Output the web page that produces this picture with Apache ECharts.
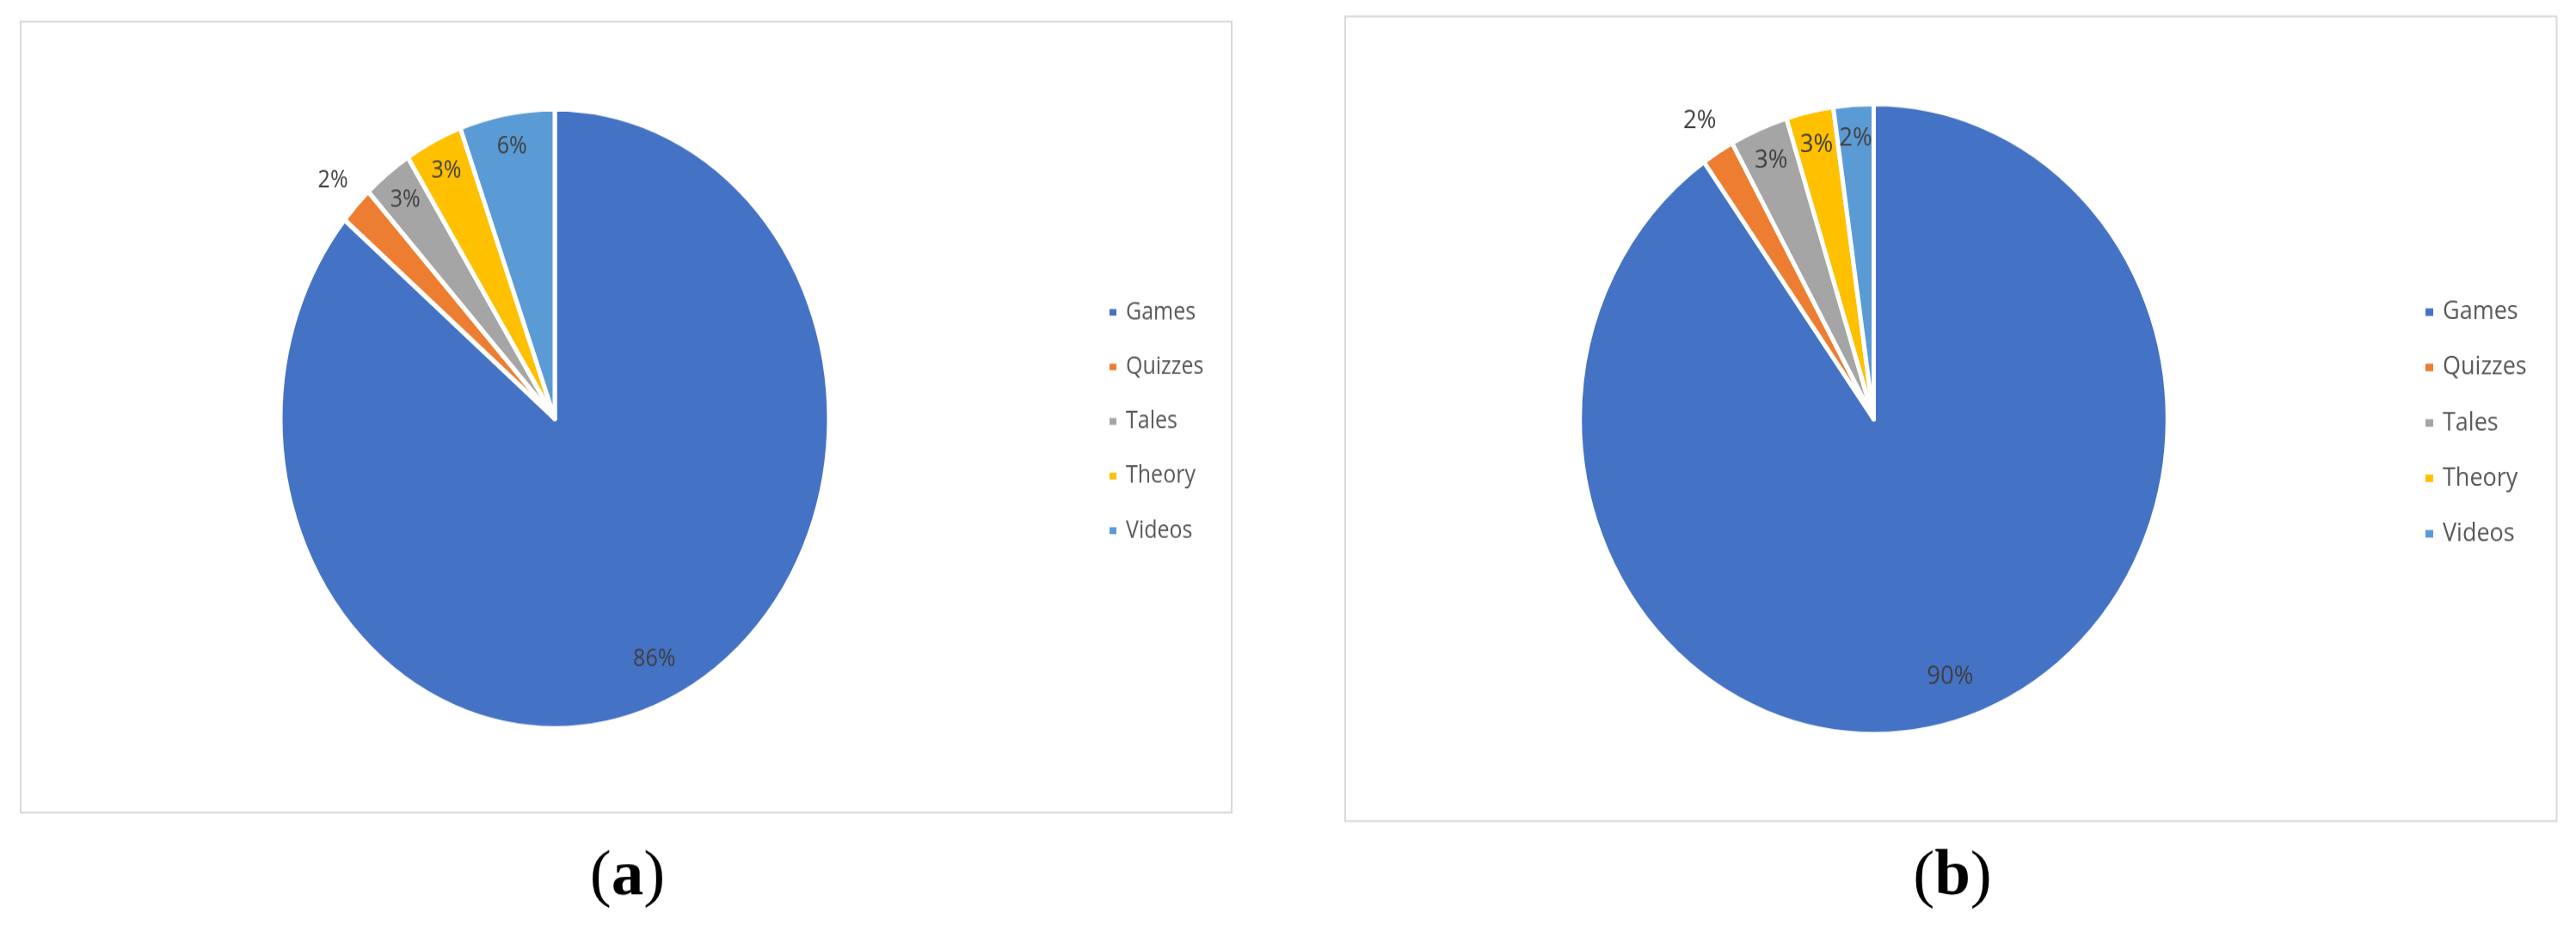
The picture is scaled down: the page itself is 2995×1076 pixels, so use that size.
<!DOCTYPE html>
<html><head><meta charset="utf-8">
<script src="https://cdn.jsdelivr.net/npm/echarts@6/dist/echarts.min.js"></script>
<style>
html,body{margin:0;padding:0;background:#fff;width:2995px;height:1076px;overflow:hidden}
.panel{position:absolute;top:0;transform-origin:0 0;}
</style></head><body>
<div id="pa" class="panel"></div><div id="pb" class="panel"></div>
<script>
// ---- data ----
const categories = ['Games', 'Quizzes', 'Tales', 'Theory', 'Videos'];
const valuesA = [86.1, 2.0, 2.9, 3.4, 5.6];   // panel (a), shares in %
const valuesB = [90.2, 1.8, 3.2, 2.6, 2.2];   // panel (b), shares in %
const captionA = 'a';
const captionB = 'b';
const colors = ['#4472C4', '#ED7D31', '#A5A5A5', '#FFC000', '#5B9BD5'];

// ---- layout (page pixel coordinates) ----
const panels = [
  { id: 'pa', left: 0, width: 1497, sy: 1.1295, box: [24, 25, 1432, 945], center: [645, 487], R: 316.5,
    legendX: 1283, legendY0: 357.6, legendStep: 63.5, icon: 10, legendFont: 25, labelFont: 25,
    caption: captionA, capPos: [729.5, 1021], values: valuesA },
  { id: 'pb', left: 1497, width: 1498, sy: 1.0722, box: [1564, 19, 2972.5, 955], center: [2178.5, 487.5], R: 339.3,
    legendX: 2813, legendY0: 357.6, legendStep: 64.5, icon: 11, legendFont: 27, labelFont: 27.5,
    caption: captionB, capPos: [2270, 1021], values: valuesB }
];

const FONT = '"Open Sans", "Noto Sans", sans-serif';

panels.forEach(function (P) {
  const el = document.getElementById(P.id);
  const H = 1076 / P.sy;
  el.style.left = P.left + 'px';
  el.style.width = P.width + 'px';
  el.style.height = H + 'px';
  el.style.transform = 'scaleY(' + P.sy + ')';
  const chart = echarts.init(el, null, { renderer: 'canvas' });
  const X = x => x - P.left;
  const Y = y => y / P.sy;
  const cx = X(P.center[0]), cy = Y(P.center[1]);
  const R = P.R;

  function labelRing(inner, outer, show) {
    return {
      type: 'pie', silent: true, z: 5,
      radius: [inner * R, outer * R], center: [cx, cy],
      startAngle: 90, clockwise: true, animation: false,
      itemStyle: { color: 'rgba(0,0,0,0)', borderWidth: 0 },
      label: {
        show: true, position: 'inside', fontFamily: FONT, fontSize: P.labelFont, color: '#404040',
        formatter: p => Math.round(p.percent) + '%'
      },
      labelLine: { show: false },
      emphasis: { disabled: true },
      data: P.values.map((v, i) => ({ value: v, label: { show: show.indexOf(i) >= 0 } }))
    };
  }

  const LH = 30;
  const stepU = P.legendStep / P.sy;
  const option = {
    animation: false,
    color: colors,
    legend: {
      orient: 'vertical', icon: 'rect',
      left: X(P.legendX), top: Y(P.legendY0) - LH / 2,
      itemWidth: P.icon, itemHeight: P.icon / P.sy,
      itemGap: stepU - LH,
      data: categories,
      textStyle: { fontFamily: FONT, fontSize: P.legendFont, color: '#595959', lineHeight: LH, padding: [0, 0, 0, 5] }
    },
    graphic: [
      { type: 'rect', z: 0, silent: true,
        shape: { x: X(P.box[0]), y: Y(P.box[1]), width: P.box[2] - P.box[0], height: Y(P.box[3]) - Y(P.box[1]) },
        style: { fill: '#ffffff', stroke: '#d9d9d9', lineWidth: 2 } },
      { type: 'text', z: 1, silent: true,
        x: X(P.capPos[0]), y: Y(P.capPos[1]), scaleY: 1 / P.sy,
        style: {
          text: '{p|(}{b|' + P.caption + '}{p|)}',
          align: 'center', verticalAlign: 'middle', fill: '#000',
          rich: {
            p: { font: '75px "Liberation Serif", serif', fill: '#000' },
            b: { font: 'bold 75px "Liberation Serif", serif', fill: '#000' }
          }
        } }
    ],
    series: [
      {
        type: 'pie', z: 2, radius: R + 2.5, center: [cx, cy],
        startAngle: 90, clockwise: true, animation: false,
        itemStyle: { borderColor: '#ffffff', borderWidth: 5 },
        label: { show: false }, labelLine: { show: false },
        emphasis: { disabled: true },
        data: categories.map((c, i) => ({ name: c, value: P.values[i] }))
      },
      labelRing(0.71, 1.0, [0]),
      labelRing(0.78, 1.0, [2, 3, 4]),
      labelRing(1.0, 1.23, [1])
    ]
  };
  chart.setOption(option);
});
</script>
</body></html>
